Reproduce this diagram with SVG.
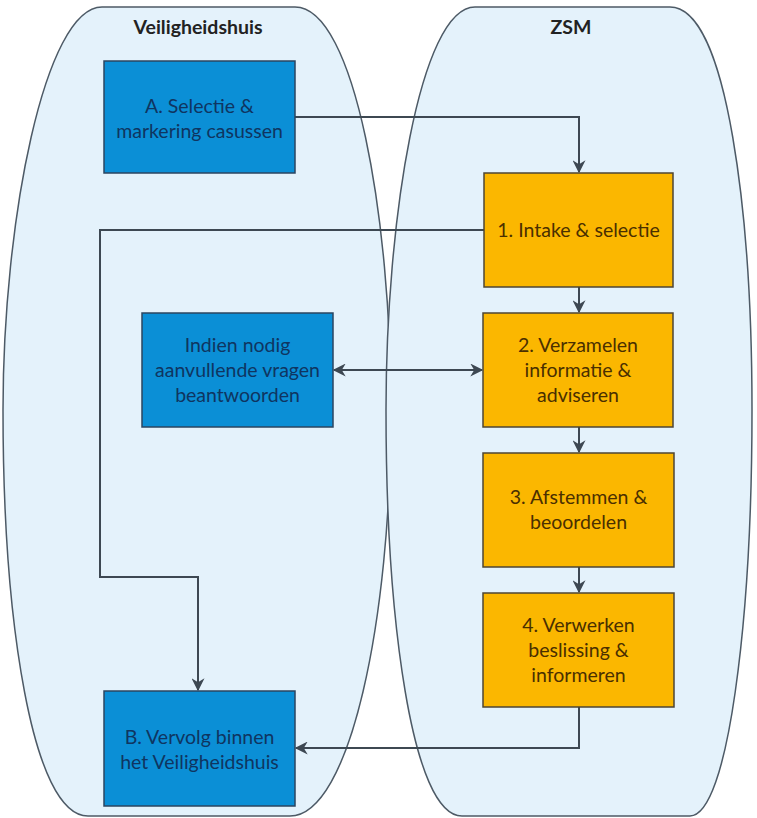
<svg xmlns="http://www.w3.org/2000/svg" width="757" height="818" viewBox="0 0 757 818">
<style>
.lane{fill:#e4f2fb;stroke:#4d5a66;stroke-width:1.5}
.blue{fill:#0b8fd6;stroke:#2b4560;stroke-width:1.5}
.orange{fill:#fbb700;stroke:#4d4535;stroke-width:1.5}
.t{font-family:Lato,"Open Sans","Liberation Sans",sans-serif;font-size:19.5px;text-anchor:middle}
.tb{fill:#0f3561}
.to{fill:#4a2f00}
.title{font-family:Lato,"Open Sans","Liberation Sans",sans-serif;font-size:19.5px;font-weight:bold;text-anchor:middle;fill:#222}
.c{fill:none;stroke:#3d4852;stroke-width:2}
</style>
<defs>
<marker id="ah" viewBox="0 0 10 10" refX="9" refY="5" markerWidth="14" markerHeight="13" orient="auto-start-reverse" markerUnits="userSpaceOnUse">
<path d="M0,0 L10,5 L0,10 L3,5 Z" fill="#3d4852"/>
</marker>
</defs>
<rect width="757" height="818" fill="#ffffff"/>
<g id="lane-veiligheidshuis">
<path class="lane" d="M102,7 L295,7 C355,7 391,220 391,410 C391,620 350,816 290,816 L88,816 C32,816 3,620 3,410 C3,220 45,7 102,7 Z"/>
<text class="title" x="198" y="34">Veiligheidshuis</text>
</g>
<g id="lane-zsm">
<path class="lane" d="M475,7 L670,7 C728,7 752,220 752,410 C752,620 728,816 690,816 L462,816 C412,816 386,620 386,410 C386,220 420,7 475,7 Z"/>
<text class="title" x="571" y="34">ZSM</text>
</g>
<g id="connectors">
<path class="c" d="M295,117 L579,117 L579,172" marker-end="url(#ah)"/>
<path class="c" d="M484,230 L100,230 L100,577 L198,577 L198,690" marker-end="url(#ah)"/>
<path class="c" d="M579,287 L579,312" marker-end="url(#ah)"/>
<path class="c" d="M334,370 L482,370" marker-start="url(#ah)" marker-end="url(#ah)"/>
<path class="c" d="M579,427 L579,452" marker-end="url(#ah)"/>
<path class="c" d="M579,567 L579,592" marker-end="url(#ah)"/>
<path class="c" d="M579,707 L579,748 L296,748" marker-end="url(#ah)"/>
</g>
<g id="node-a">
<rect class="blue" x="104" y="61" width="191" height="112"/>
<text class="t tb" x="199.5" y="113">A. Selectie &amp;</text>
<text class="t tb" x="199.5" y="138">markering casussen</text>
</g>
<g id="node-1">
<rect class="orange" x="484" y="173" width="189" height="114"/>
<text class="t to" x="578.5" y="237">1. Intake &amp; selectie</text>
</g>
<g id="node-indien">
<rect class="blue" x="142" y="313" width="191" height="114"/>
<text class="t tb" x="237.5" y="352">Indien nodig</text>
<text class="t tb" x="237.5" y="377">aanvullende vragen</text>
<text class="t tb" x="237.5" y="402">beantwoorden</text>
</g>
<g id="node-2">
<rect class="orange" x="483" y="313" width="190" height="114"/>
<text class="t to" x="578" y="352">2. Verzamelen</text>
<text class="t to" x="578" y="377">informatie &amp;</text>
<text class="t to" x="578" y="402">adviseren</text>
</g>
<g id="node-3">
<rect class="orange" x="483" y="453" width="191" height="114"/>
<text class="t to" x="578.5" y="504">3. Afstemmen &amp;</text>
<text class="t to" x="578.5" y="529">beoordelen</text>
</g>
<g id="node-4">
<rect class="orange" x="483" y="593" width="191" height="114"/>
<text class="t to" x="578.5" y="632">4. Verwerken</text>
<text class="t to" x="578.5" y="657">beslissing &amp;</text>
<text class="t to" x="578.5" y="682">informeren</text>
</g>
<g id="node-b">
<rect class="blue" x="104" y="691" width="191" height="115"/>
<text class="t tb" x="199.5" y="744">B. Vervolg binnen</text>
<text class="t tb" x="199.5" y="769">het Veiligheidshuis</text>
</g>
</svg>
